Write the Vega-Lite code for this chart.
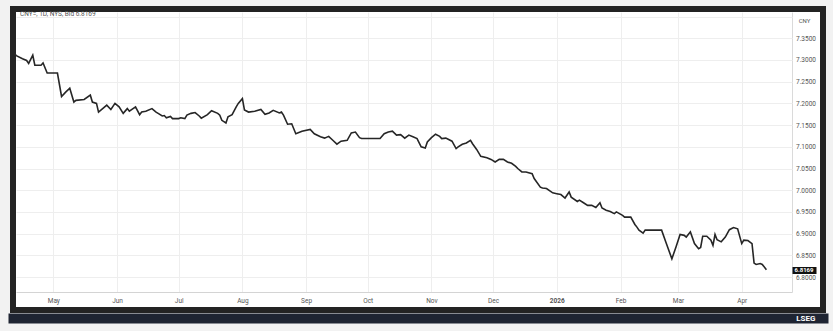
{
  "$schema": "https://vega.github.io/schema/vega-lite/v6.json",
  "width": 810,
  "height": 301,
  "autosize": {"type": "none"},
  "padding": {"left": 13, "top": 9, "right": 10, "bottom": 21},
  "background": "#f2f2f2",
  "config": {
    "font": "Roboto",
    "view": {"fill": "#ffffff", "stroke": "#232323", "strokeWidth": 6},
    "axis": {"grid": false, "labelFont": "Roboto", "titleFont": "Roboto"}
  },
  "title": {
    "text": "CNY=, 1D, NYS, Bid 6.8169",
    "anchor": "start",
    "frame": "group",
    "offset": -13.5,
    "dx": 7,
    "fontSize": 6.5,
    "fontWeight": "normal",
    "color": "#555555",
    "baseline": "alphabetic"
  },
  "data": {
    "values": [
      {"date": "2025-04-12", "bid": 7.315},
      {"date": "2025-04-13", "bid": 7.310},
      {"date": "2025-04-16", "bid": 7.303},
      {"date": "2025-04-18", "bid": 7.299},
      {"date": "2025-04-19", "bid": 7.292},
      {"date": "2025-04-21", "bid": 7.311},
      {"date": "2025-04-22", "bid": 7.288},
      {"date": "2025-04-25", "bid": 7.288},
      {"date": "2025-04-26", "bid": 7.293},
      {"date": "2025-04-28", "bid": 7.270},
      {"date": "2025-05-03", "bid": 7.270},
      {"date": "2025-05-05", "bid": 7.216},
      {"date": "2025-05-07", "bid": 7.226},
      {"date": "2025-05-09", "bid": 7.235},
      {"date": "2025-05-11", "bid": 7.203},
      {"date": "2025-05-12", "bid": 7.207},
      {"date": "2025-05-16", "bid": 7.209},
      {"date": "2025-05-19", "bid": 7.219},
      {"date": "2025-05-20", "bid": 7.203},
      {"date": "2025-05-22", "bid": 7.200},
      {"date": "2025-05-23", "bid": 7.180},
      {"date": "2025-05-25", "bid": 7.188},
      {"date": "2025-05-27", "bid": 7.196},
      {"date": "2025-05-29", "bid": 7.186},
      {"date": "2025-05-31", "bid": 7.200},
      {"date": "2025-06-02", "bid": 7.192},
      {"date": "2025-06-04", "bid": 7.177},
      {"date": "2025-06-06", "bid": 7.188},
      {"date": "2025-06-07", "bid": 7.182},
      {"date": "2025-06-10", "bid": 7.192},
      {"date": "2025-06-12", "bid": 7.174},
      {"date": "2025-06-13", "bid": 7.180},
      {"date": "2025-06-15", "bid": 7.182},
      {"date": "2025-06-18", "bid": 7.188},
      {"date": "2025-06-20", "bid": 7.180},
      {"date": "2025-06-21", "bid": 7.177},
      {"date": "2025-06-23", "bid": 7.171},
      {"date": "2025-06-24", "bid": 7.172},
      {"date": "2025-06-25", "bid": 7.167},
      {"date": "2025-06-27", "bid": 7.170},
      {"date": "2025-06-28", "bid": 7.165},
      {"date": "2025-07-01", "bid": 7.165},
      {"date": "2025-07-02", "bid": 7.167},
      {"date": "2025-07-04", "bid": 7.165},
      {"date": "2025-07-05", "bid": 7.173},
      {"date": "2025-07-07", "bid": 7.177},
      {"date": "2025-07-09", "bid": 7.179},
      {"date": "2025-07-11", "bid": 7.171},
      {"date": "2025-07-12", "bid": 7.166},
      {"date": "2025-07-15", "bid": 7.174},
      {"date": "2025-07-17", "bid": 7.183},
      {"date": "2025-07-20", "bid": 7.177},
      {"date": "2025-07-21", "bid": 7.173},
      {"date": "2025-07-22", "bid": 7.161},
      {"date": "2025-07-24", "bid": 7.155},
      {"date": "2025-07-25", "bid": 7.169},
      {"date": "2025-07-27", "bid": 7.174},
      {"date": "2025-07-29", "bid": 7.192},
      {"date": "2025-07-30", "bid": 7.200},
      {"date": "2025-08-01", "bid": 7.211},
      {"date": "2025-08-02", "bid": 7.185},
      {"date": "2025-08-04", "bid": 7.180},
      {"date": "2025-08-07", "bid": 7.182},
      {"date": "2025-08-10", "bid": 7.186},
      {"date": "2025-08-12", "bid": 7.175},
      {"date": "2025-08-14", "bid": 7.178},
      {"date": "2025-08-16", "bid": 7.184},
      {"date": "2025-08-19", "bid": 7.178},
      {"date": "2025-08-20", "bid": 7.180},
      {"date": "2025-08-21", "bid": 7.173},
      {"date": "2025-08-23", "bid": 7.152},
      {"date": "2025-08-25", "bid": 7.153},
      {"date": "2025-08-27", "bid": 7.130},
      {"date": "2025-08-30", "bid": 7.136},
      {"date": "2025-09-03", "bid": 7.140},
      {"date": "2025-09-05", "bid": 7.130},
      {"date": "2025-09-08", "bid": 7.123},
      {"date": "2025-09-10", "bid": 7.120},
      {"date": "2025-09-12", "bid": 7.124},
      {"date": "2025-09-14", "bid": 7.115},
      {"date": "2025-09-16", "bid": 7.106},
      {"date": "2025-09-18", "bid": 7.113},
      {"date": "2025-09-21", "bid": 7.115},
      {"date": "2025-09-23", "bid": 7.132},
      {"date": "2025-09-25", "bid": 7.134},
      {"date": "2025-09-27", "bid": 7.121},
      {"date": "2025-09-28", "bid": 7.119},
      {"date": "2025-10-07", "bid": 7.119},
      {"date": "2025-10-09", "bid": 7.130},
      {"date": "2025-10-11", "bid": 7.134},
      {"date": "2025-10-13", "bid": 7.136},
      {"date": "2025-10-15", "bid": 7.127},
      {"date": "2025-10-17", "bid": 7.128},
      {"date": "2025-10-19", "bid": 7.120},
      {"date": "2025-10-21", "bid": 7.127},
      {"date": "2025-10-23", "bid": 7.123},
      {"date": "2025-10-25", "bid": 7.119},
      {"date": "2025-10-27", "bid": 7.100},
      {"date": "2025-10-29", "bid": 7.097},
      {"date": "2025-10-30", "bid": 7.111},
      {"date": "2025-11-01", "bid": 7.121},
      {"date": "2025-11-03", "bid": 7.129},
      {"date": "2025-11-05", "bid": 7.124},
      {"date": "2025-11-06", "bid": 7.119},
      {"date": "2025-11-08", "bid": 7.120},
      {"date": "2025-11-11", "bid": 7.113},
      {"date": "2025-11-13", "bid": 7.096},
      {"date": "2025-11-14", "bid": 7.100},
      {"date": "2025-11-16", "bid": 7.106},
      {"date": "2025-11-18", "bid": 7.109},
      {"date": "2025-11-20", "bid": 7.115},
      {"date": "2025-11-21", "bid": 7.107},
      {"date": "2025-11-23", "bid": 7.094},
      {"date": "2025-11-25", "bid": 7.078},
      {"date": "2025-11-28", "bid": 7.075},
      {"date": "2025-11-30", "bid": 7.071},
      {"date": "2025-12-02", "bid": 7.065},
      {"date": "2025-12-04", "bid": 7.071},
      {"date": "2025-12-06", "bid": 7.071},
      {"date": "2025-12-08", "bid": 7.065},
      {"date": "2025-12-10", "bid": 7.062},
      {"date": "2025-12-12", "bid": 7.055},
      {"date": "2025-12-13", "bid": 7.050},
      {"date": "2025-12-15", "bid": 7.042},
      {"date": "2025-12-17", "bid": 7.042},
      {"date": "2025-12-20", "bid": 7.038},
      {"date": "2025-12-21", "bid": 7.027},
      {"date": "2025-12-24", "bid": 7.007},
      {"date": "2025-12-25", "bid": 7.005},
      {"date": "2025-12-27", "bid": 7.004},
      {"date": "2025-12-30", "bid": 6.994},
      {"date": "2026-01-01", "bid": 6.992},
      {"date": "2026-01-03", "bid": 6.990},
      {"date": "2026-01-05", "bid": 6.982},
      {"date": "2026-01-07", "bid": 6.996},
      {"date": "2026-01-08", "bid": 6.984},
      {"date": "2026-01-11", "bid": 6.974},
      {"date": "2026-01-12", "bid": 6.977},
      {"date": "2026-01-14", "bid": 6.971},
      {"date": "2026-01-16", "bid": 6.965},
      {"date": "2026-01-18", "bid": 6.965},
      {"date": "2026-01-20", "bid": 6.960},
      {"date": "2026-01-22", "bid": 6.971},
      {"date": "2026-01-23", "bid": 6.959},
      {"date": "2026-01-25", "bid": 6.954},
      {"date": "2026-01-27", "bid": 6.951},
      {"date": "2026-01-29", "bid": 6.946},
      {"date": "2026-01-30", "bid": 6.950},
      {"date": "2026-02-02", "bid": 6.942},
      {"date": "2026-02-03", "bid": 6.938},
      {"date": "2026-02-06", "bid": 6.938},
      {"date": "2026-02-08", "bid": 6.921},
      {"date": "2026-02-09", "bid": 6.915},
      {"date": "2026-02-10", "bid": 6.908},
      {"date": "2026-02-12", "bid": 6.901},
      {"date": "2026-02-13", "bid": 6.908},
      {"date": "2026-02-21", "bid": 6.908},
      {"date": "2026-02-23", "bid": 6.881},
      {"date": "2026-02-26", "bid": 6.842},
      {"date": "2026-02-28", "bid": 6.869},
      {"date": "2026-03-02", "bid": 6.898},
      {"date": "2026-03-04", "bid": 6.896},
      {"date": "2026-03-05", "bid": 6.892},
      {"date": "2026-03-07", "bid": 6.904},
      {"date": "2026-03-09", "bid": 6.877},
      {"date": "2026-03-11", "bid": 6.865},
      {"date": "2026-03-12", "bid": 6.868},
      {"date": "2026-03-13", "bid": 6.894},
      {"date": "2026-03-15", "bid": 6.894},
      {"date": "2026-03-17", "bid": 6.885},
      {"date": "2026-03-18", "bid": 6.873},
      {"date": "2026-03-19", "bid": 6.898},
      {"date": "2026-03-20", "bid": 6.886},
      {"date": "2026-03-22", "bid": 6.881},
      {"date": "2026-03-24", "bid": 6.892},
      {"date": "2026-03-26", "bid": 6.909},
      {"date": "2026-03-28", "bid": 6.914},
      {"date": "2026-03-30", "bid": 6.911},
      {"date": "2026-04-01", "bid": 6.877},
      {"date": "2026-04-02", "bid": 6.885},
      {"date": "2026-04-04", "bid": 6.884},
      {"date": "2026-04-06", "bid": 6.877},
      {"date": "2026-04-07", "bid": 6.832},
      {"date": "2026-04-08", "bid": 6.829},
      {"date": "2026-04-10", "bid": 6.831},
      {"date": "2026-04-11", "bid": 6.829},
      {"date": "2026-04-13", "bid": 6.817}
    ]
  },
  "layer": [
    {
      "mark": {"type": "line", "stroke": "#262626", "strokeWidth": 1.6, "interpolate": "linear"},
      "encoding": {
        "x": {
          "field": "date",
          "type": "temporal",
          "scale": {"domain": [{"year": 2025, "month": 4, "date": 11, "hours": 9}, {"year": 2026, "month": 5, "date": 10, "hours": 13}], "nice": false},
          "axis": {
            "orient": "bottom",
            "offset": -18,
            "values": [
              {"year": 2025, "month": 5, "date": 1},
              {"year": 2025, "month": 6, "date": 1},
              {"year": 2025, "month": 7, "date": 1},
              {"year": 2025, "month": 8, "date": 1},
              {"year": 2025, "month": 9, "date": 1},
              {"year": 2025, "month": 10, "date": 1},
              {"year": 2025, "month": 11, "date": 1},
              {"year": 2025, "month": 12, "date": 1},
              {"year": 2026, "month": 1, "date": 1},
              {"year": 2026, "month": 2, "date": 1},
              {"year": 2026, "month": 3, "date": 1},
              {"year": 2026, "month": 4, "date": 1}
            ],
            "domain": false,
            "ticks": false,
            "grid": false,
            "labelPadding": 5,
            "labelFontSize": 6.5,
            "labelColor": "#555555",
            "labelExpr": "month(datum.value) == 0 ? timeFormat(datum.value, '%Y') : timeFormat(datum.value, '%b')",
            "labelFontWeight": {"condition": {"test": "month(datum.value) == 0", "value": "bold"}, "value": "normal"},
            "labelOverlap": false,
            "labelFlush": false,
            "title": null
          }
        },
        "y": {
          "field": "bid",
          "type": "quantitative",
          "scale": {"domain": [6.724, 7.4175], "nice": false, "zero": false},
          "axis": {
            "orient": "right",
            "offset": -31,
            "values": [6.8, 6.85, 6.9, 6.95, 7.0, 7.05, 7.1, 7.15, 7.2, 7.25, 7.3, 7.35],
            "format": ".4f",
            "domain": false,
            "ticks": false,
            "grid": false,
            "labelPadding": 3.5,
            "labelAlign": "left",
            "labelBaseline": "middle",
            "labelFontSize": 6.5,
            "labelColor": "#555555",
            "labelOverlap": false,
            "labelFlush": false,
            "title": "CNY",
            "titleAngle": 0,
            "titleX": 12,
            "titleY": 11,
            "titleAlign": "center",
            "titleBaseline": "middle",
            "titleFontSize": 6,
            "titleFontWeight": "normal",
            "titleColor": "#555555"
          }
        }
      }
    },
    {
      "mark": {"type": "line", "opacity": 0},
      "encoding": {
        "x": {
          "field": "date",
          "type": "temporal",
          "axis": {
            "orient": "bottom",
            "offset": -18,
            "values": [
              {"year": 2025, "month": 5, "date": 1},
              {"year": 2025, "month": 6, "date": 1},
              {"year": 2025, "month": 7, "date": 1},
              {"year": 2025, "month": 8, "date": 1},
              {"year": 2025, "month": 9, "date": 1},
              {"year": 2025, "month": 10, "date": 1},
              {"year": 2025, "month": 11, "date": 1},
              {"year": 2025, "month": 12, "date": 1},
              {"year": 2026, "month": 1, "date": 1},
              {"year": 2026, "month": 2, "date": 1},
              {"year": 2026, "month": 3, "date": 1},
              {"year": 2026, "month": 4, "date": 1},
              {"year": 2026, "month": 4, "date": 25, "hours": 11}
            ],
            "domain": false,
            "labels": false,
            "grid": false,
            "ticks": true,
            "tickSize": -280,
            "tickWidth": 1,
            "tickColor": {"condition": {"test": "datum.value > datetime(2026, 3, 20)", "value": "#dadada"}, "value": "#eeeeee"},
            "title": null
          }
        },
        "y": {
          "field": "bid",
          "type": "quantitative",
          "axis": {
            "orient": "right",
            "offset": -31,
            "values": [6.7655, 6.8, 6.85, 6.9, 6.95, 7.0, 7.05, 7.1, 7.15, 7.2, 7.25, 7.3, 7.35, 7.4],
            "domain": false,
            "labels": false,
            "grid": false,
            "ticks": true,
            "tickSize": -776,
            "tickWidth": 1,
            "tickColor": {"condition": {"test": "datum.value < 6.78", "value": "#d4d4d4"}, "value": "#eeeeee"},
            "title": null
          }
        }
      }
    },
    {
      "mark": {"type": "line", "opacity": 0},
      "encoding": {
        "x": {
          "field": "date",
          "type": "temporal",
          "axis": {
            "orient": "bottom",
            "offset": 8,
            "values": [],
            "domain": true,
            "domainColor": "#1e2432",
            "domainWidth": 10,
            "domainCap": "square",
            "ticks": false,
            "labels": false,
            "grid": false,
            "title": "LSEG",
            "titleColor": "#ffffff",
            "titleFontSize": 8,
            "titleFontWeight": "bold",
            "titleX": 802,
            "titleY": 0.5,
            "titleAlign": "right",
            "titleBaseline": "middle"
          }
        },
        "y": {
          "field": "bid",
          "type": "quantitative",
          "axis": {
            "orient": "right",
            "offset": -31,
            "values": [6.8169],
            "format": ".4f",
            "domain": false,
            "grid": false,
            "ticks": true,
            "tickSize": 24,
            "tickWidth": 7,
            "tickColor": "#111111",
            "tickCap": "butt",
            "labels": true,
            "labelPadding": -22,
            "labelAlign": "left",
            "labelBaseline": "middle",
            "labelColor": "#ffffff",
            "labelFontWeight": "bold",
            "labelFontSize": 6,
            "labelOverlap": false,
            "labelFlush": false,
            "title": null
          }
        }
      }
    }
  ],
  "resolve": {"axis": {"x": "independent", "y": "independent"}}
}
